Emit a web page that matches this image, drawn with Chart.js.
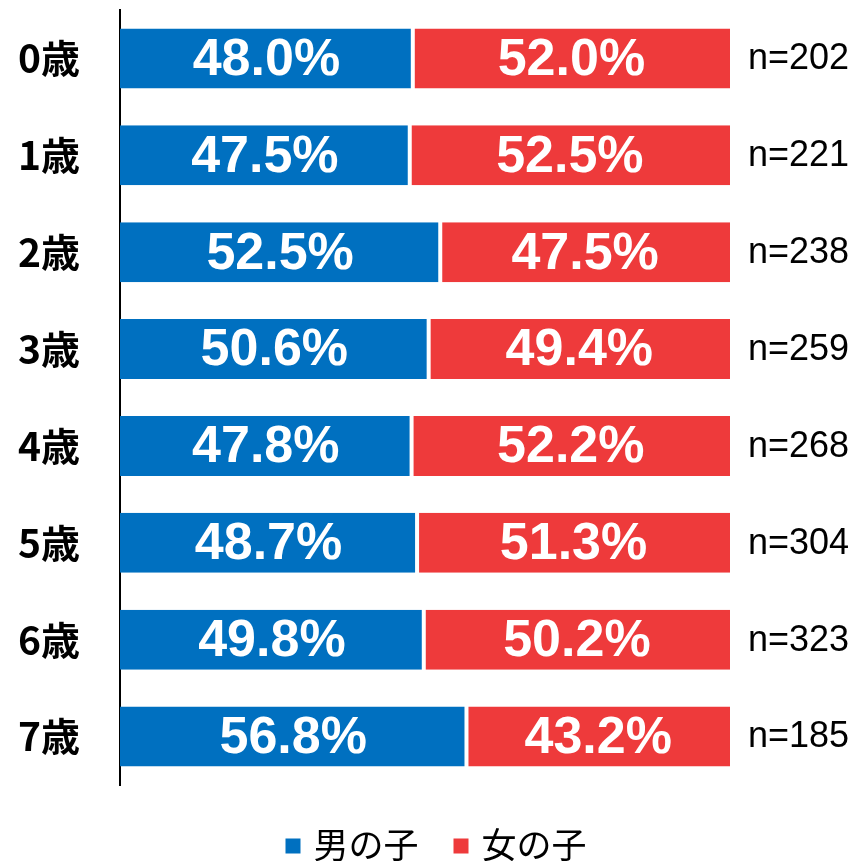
<!DOCTYPE html>
<html>
<head>
<meta charset="utf-8">
<script src="https://cdn.jsdelivr.net/npm/chart.js@4.4.0/dist/chart.umd.min.js"></script>
<style>
  body { margin: 0; background: #fff; }
</style>
</head>
<body>
<canvas id="myChart" width="856" height="861"></canvas>
<script>
// datos
const ages = ["0歳", "1歳", "2歳", "3歳", "4歳", "5歳", "6歳", "7歳"];
const boys = [48.0, 47.5, 52.5, 50.6, 47.8, 48.7, 49.8, 56.8];
const girls = [52.0, 52.5, 47.5, 49.4, 52.2, 51.3, 50.2, 43.2];
const counts = [202, 221, 238, 259, 268, 304, 323, 185];
const seriesNames = ["男の子", "女の子"];

const BLUE = "#0070C0";
const RED = "#EE3A3B";

// etiquetas dentro de las barras y n= a la derecha
const labelsPlugin = {
  id: "barLabels",
  afterDatasetsDraw(chart) {
    const ctx = chart.ctx;
    ctx.save();
    ctx.textBaseline = "middle";
    ctx.textAlign = "center";
    ctx.fillStyle = "#fff";
    ctx.font = "bold 52px 'Liberation Sans'";
    chart.data.datasets.forEach((ds, i) => {
      chart.getDatasetMeta(i).data.forEach((bar, j) => {
        ctx.fillText(ds.data[j].toFixed(1) + "%", (bar.x + bar.base) / 2, bar.y + 2);
      });
    });
    const meta = chart.getDatasetMeta(1);
    ctx.fillStyle = "#000";
    ctx.font = "36px 'Liberation Sans'";
    ctx.textAlign = "left";
    meta.data.forEach((bar, j) => {
      ctx.fillText("n=" + counts[j], chart.chartArea.right + 18, bar.y + 1);
    });
    ctx.restore();
  }
};

// leyenda dibujada a mano abajo
const legendPlugin = {
  id: "myLegend",
  afterDraw(chart) {
    const ctx = chart.ctx;
    ctx.save();
    ctx.font = "35px 'Noto Sans CJK JP'";
    ctx.textBaseline = "middle";
    ctx.textAlign = "left";
    const box = 15, gap = 13, between = 35;
    const items = chart.data.datasets.map(ds => ({ text: ds.label, color: ds.backgroundColor, w: ctx.measureText(ds.label).width }));
    let total = items.reduce((s, it) => s + box + gap + it.w, 0) + between * (items.length - 1);
    let x = chart.width / 2 - total / 2 + 8;
    const y = 845;
    items.forEach(it => {
      ctx.fillStyle = it.color;
      ctx.fillRect(x, y - box / 2 + 1, box, box);
      x += box + gap;
      ctx.fillStyle = "#000";
      ctx.fillText(it.text, x, y);
      x += it.w + between;
    });
    ctx.restore();
  }
};

let grafico = document.getElementById("myChart").getContext("2d");

let myChart = new Chart(grafico, {
  type: "bar",
  data: {
    labels: ages,
    datasets: [
      {
        label: seriesNames[0],
        data: boys,
        backgroundColor: BLUE,
        borderColor: "#fff",
        borderWidth: { left: 0, right: 2, top: 0, bottom: 0 },
        borderSkipped: false,
        barPercentage: 0.62,
        categoryPercentage: 1
      },
      {
        label: seriesNames[1],
        data: girls,
        backgroundColor: RED,
        borderColor: "#fff",
        borderWidth: { left: 2, right: 0, top: 0, bottom: 0 },
        borderSkipped: false,
        barPercentage: 0.62,
        categoryPercentage: 1
      }
    ]
  },
  options: {
    indexAxis: "y",
    responsive: false,
    animation: false,
    layout: { padding: { left: 0, right: 126, top: 10, bottom: 76 } },
    plugins: {
      legend: { display: false },
      tooltip: { enabled: false }
    },
    scales: {
      x: {
        stacked: true,
        min: 0,
        max: 100,
        display: false
      },
      y: {
        stacked: true,
        grid: { display: false, drawTicks: false },
        border: { display: true, color: "#000", width: 2 },
        ticks: {
          color: "#000",
          padding: 40,
          font: { family: "'Noto Sans CJK JP'", weight: "bold", size: 39 }
        },
        afterFit(scale) {
          scale.width = 120;
          scale.paddingTop = 0;
          scale.paddingBottom = 0;
        }
      }
    }
  },
  plugins: [labelsPlugin, legendPlugin]
});
</script>
</body>
</html>
